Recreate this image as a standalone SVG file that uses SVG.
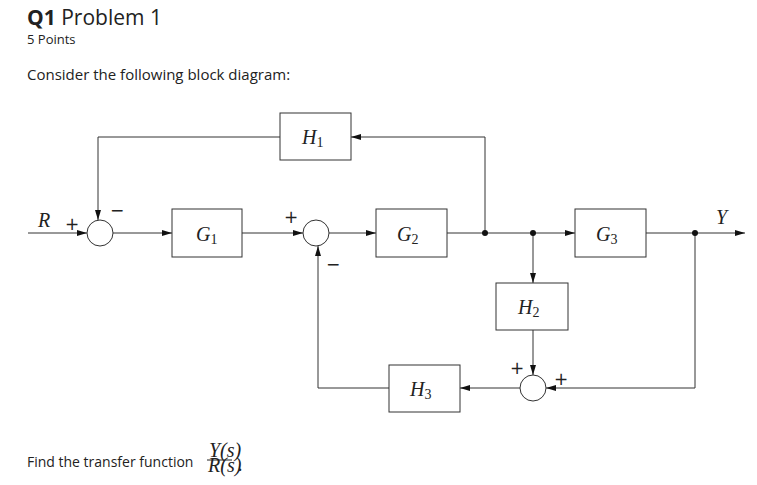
<svg xmlns="http://www.w3.org/2000/svg" width="757" height="485" viewBox="0 0 757 485">
<style>
.b{fill:#fff;stroke:#333;stroke-width:1}
.l{fill:none;stroke:#333;stroke-width:1}
.m{font-family:"Liberation Serif",serif;font-style:italic;font-size:20px;fill:#222}
.u{font-style:normal;font-size:14px}
.s{font-family:"DejaVu Sans",sans-serif;font-size:17px;fill:#222}
.t{font-family:"Open Sans","Liberation Sans",sans-serif;fill:#222}
</style>
<defs><marker id="a" viewBox="0 0 10 6" refX="10" refY="3" markerWidth="10" markerHeight="6" orient="auto" markerUnits="userSpaceOnUse"><path d="M0,0L10,3L0,6z" fill="#111"/></marker></defs>
<rect width="757" height="485" fill="#fff"/>
<text class="t" x="27" y="25" font-size="21"><tspan font-weight="bold">Q1</tspan> Problem 1</text>
<text class="t" x="27" y="44" font-size="13" fill="#555">5 Points</text>
<text class="t" x="27" y="80" font-size="15">Consider the following block diagram:</text>
<text class="t" x="27" y="467" font-size="14">Find the transfer function</text>
<text class="m" x="209" y="457" font-size="11">Y(s)</text>
<line x1="207" y1="460" x2="232" y2="460" stroke="#222"/>
<text class="m" x="208" y="472" font-size="11">R(s)</text>
<text class="m" x="238" y="471" font-size="11">.</text>
<g id="connectors">
<path class="l" d="M28,233H87" marker-end="url(#a)"/>
<path class="l" d="M113,233H172" marker-end="url(#a)"/>
<path class="l" d="M242,233H303" marker-end="url(#a)"/>
<path class="l" d="M329,233H376" marker-end="url(#a)"/>
<path class="l" d="M447,233H575" marker-end="url(#a)"/>
<path class="l" d="M646,233H745" marker-end="url(#a)"/>
<path class="l" d="M485,233V137H351" marker-end="url(#a)"/>
<path class="l" d="M280,137H98V220" marker-end="url(#a)"/>
<path class="l" d="M533,233V283" marker-end="url(#a)"/>
<path class="l" d="M533,330V375" marker-end="url(#a)"/>
<path class="l" d="M695,233V388H546" marker-end="url(#a)"/>
<path class="l" d="M520,388H460" marker-end="url(#a)"/>
<path class="l" d="M389,388H318V246" marker-end="url(#a)"/>
<circle cx="485" cy="233" r="3" fill="#111"/>
<circle cx="533" cy="233" r="3" fill="#111"/>
<circle cx="695" cy="233" r="3" fill="#111"/>
</g>
<g id="sum1"><circle class="b" cx="100" cy="233" r="13"/><text class="s" x="65" y="230">+</text><text class="s" x="110" y="216">−</text></g>
<g id="sum2"><circle class="b" cx="316" cy="233" r="13"/><text class="s" x="284" y="223">+</text><text class="s" x="326" y="270">−</text></g>
<g id="sum3"><circle class="b" cx="533" cy="388" r="13"/><text class="s" x="510" y="374">+</text><text class="s" x="554" y="385">+</text></g>
<g id="labels"><text class="m" x="38" y="227">R</text><text class="m" x="716" y="224">Y</text></g>
<g id="G1"><rect class="b" x="172" y="209" width="70" height="48"/><text class="m" x="196" y="241">G<tspan class="u" dy="3">1</tspan></text></g>
<g id="G2"><rect class="b" x="376" y="209" width="71" height="48"/><text class="m" x="397" y="241">G<tspan class="u" dy="3">2</tspan></text></g>
<g id="G3"><rect class="b" x="575" y="209" width="71" height="48"/><text class="m" x="596" y="241">G<tspan class="u" dy="3">3</tspan></text></g>
<g id="H1"><rect class="b" x="280" y="113" width="71" height="47"/><text class="m" x="302" y="144">H<tspan class="u" dy="3">1</tspan></text></g>
<g id="H2"><rect class="b" x="496" y="283" width="72" height="47"/><text class="m" x="518" y="314">H<tspan class="u" dy="3">2</tspan></text></g>
<g id="H3"><rect class="b" x="389" y="365" width="71" height="47"/><text class="m" x="410" y="396">H<tspan class="u" dy="3">3</tspan></text></g>
</svg>
